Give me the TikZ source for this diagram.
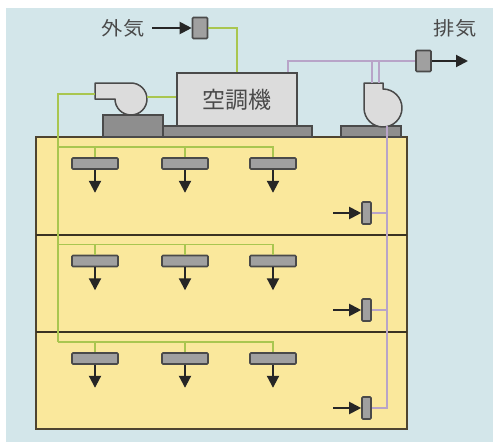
\documentclass[tikz,border=0pt]{standalone}
\usepackage{fontspec}
\newfontfamily\jpfont{Noto Sans CJK JP}
\newfontfamily\jpwide[FakeStretch=1.12]{Noto Sans CJK JP}
\usetikzlibrary{arrows.meta}

\definecolor{sky}{HTML}{D3E6EA}
\definecolor{floorfill}{HTML}{FAE89C}
\definecolor{wall}{HTML}{4E4430}
\definecolor{slab}{HTML}{3A3222}
\definecolor{supplyline}{HTML}{A9C650}
\definecolor{returnline}{HTML}{B8A4C8}
\definecolor{outline}{HTML}{4A4A4A}
\definecolor{unitfill}{HTML}{DCDCDC}
\definecolor{partfill}{HTML}{A0A0A0}
\definecolor{basefill}{HTML}{8E8E8E}
\definecolor{labeltext}{HTML}{4A4A4A}

\tikzset{
  floorwall/.style={draw=wall, line width=2pt, fill=floorfill},
  slabline/.style={draw=slab, line width=2.6pt},
  unitbox/.style={draw=outline, line width=1.6pt, fill=unitfill, minimum width=120pt,
    minimum height=53pt, inner sep=0pt, text=labeltext,
    font=\jpfont\fontsize{23}{26}\selectfont},
  fanbody/.style={draw=outline, line width=1.5pt, fill=unitfill, line join=round},
  basebox/.style={draw=outline, line width=1.5pt, fill=basefill},
  diffuser/.style={draw=outline, line width=1.6pt, fill=partfill, rounded corners=1pt,
    minimum width=46pt, minimum height=11pt, inner sep=0pt},
  grille/.style={draw=outline, line width=1.6pt, fill=partfill, rounded corners=1pt,
    minimum width=9pt, minimum height=22pt, inner sep=0pt},
  damper/.style={draw=outline, line width=1.6pt, fill=partfill, rounded corners=1pt,
    minimum width=15pt, minimum height=21pt, inner sep=0pt},
  supply/.style={draw=supplyline, line width=1.4pt},
  ret/.style={draw=returnline, line width=1.4pt},
  airarrow/.style={draw=black!85, line width=2pt, -{Triangle[length=12pt,width=12pt]}},
  airlabel/.style={text=labeltext, font=\jpwide\fontsize{19}{22}\selectfont, inner sep=2pt}
}

\begin{document}
\begin{tikzpicture}[x=1pt,y=-1pt]
\useasboundingbox (0,0) rectangle (493,442);
\fill[white] (0,0) rectangle (493,442);
\fill[sky] (6,8) rectangle (493,442);

% building with three floors
\path[floorwall] (36,137) rectangle (407,429);
\draw[slabline] (36,235) -- (407,235);
\draw[slabline] (36,332) -- (407,332);

% equipment bases on the roof
\path[basebox] (163,126) rectangle (312,137);
\path[basebox] (103,115) rectangle (163,137);
\path[basebox] (341,126) rectangle (401,137);

% air handling unit
\node[unitbox] (ac) at (237,99.5) {空調機};

% supply fan (outlet facing left)
\path[fanbody] (95,83) -- (131,83) arc[start angle=-90, end angle=180, radius=16] -- (95,99) -- cycle;
\coordinate (sfout) at (95,94);
\coordinate (sfin) at (147,97);

% exhaust fan (outlet facing up)
\path[fanbody] (364,83) -- (383,83) -- (383,89) arc[start angle=-90, end angle=180, radius=19] -- cycle;
\coordinate (efdown) at (387,126);
\coordinate (efa) at (372,83);
\coordinate (efb) at (379,83);

% outside air intake
\node[damper] (oa) at (200,28) {};
\node[airlabel] (oalabel) at (123,28) {外気};
\draw[airarrow] ([xshift=6pt]oalabel.east) -- (oa.west);
\draw[supply] (ac.north) |- (oa.east);
\draw[supply] (sfin) -- (sfin -| ac.west);

% exhaust outlet
\node[damper] (ea) at (423.5,61) {};
\coordinate (eaout) at (468,61);
\node[airlabel] (ealabel) at (455,28) {排気};
\draw[airarrow] (ea.east) -- (eaout);
\draw[ret] ([xshift=51pt]ac.north) |- (ea.west);
\draw[ret] (efa) -- (efa |- ea.west);
\draw[ret] (efb) -- (efb |- ea.west);

% supply diffusers and branch ducts on each floor
\foreach \f/\y in {1/0,2/97.5,3/195}{
  \coordinate (br\f) at (58,147+\y);
  \node[diffuser] (d\f a) at (95,163.5+\y) {};
  \node[diffuser] (d\f b) at (185,163.5+\y) {};
  \node[diffuser] (d\f c) at (273,163.5+\y) {};
  \draw[supply] (br\f) -| (d\f c.north);
  \draw[supply] (d\f a.north |- br\f) -- (d\f a.north);
  \draw[supply] (d\f b.north |- br\f) -- (d\f b.north);
  \foreach \d in {a,b,c}{
    \draw[airarrow] (d\f\d.south) -- ++(0,23);
  }
}
\draw[supply] (sfout) -| (br3);

% return grilles on each floor
\node[grille] (r1) at (366.5,213) {};
\node[grille] (r2) at (366.5,310) {};
\node[grille] (r3) at (366.5,408) {};
\draw[ret] (efdown) |- (r3.east);
\draw[ret] (r1.east) -- (r1.east -| efdown);
\draw[ret] (r2.east) -- (r2.east -| efdown);
\foreach \r in {r1,r2,r3}{
  \draw[airarrow] ([xshift=-28pt]\r.west) -- (\r.west);
}
\end{tikzpicture}
\end{document}
